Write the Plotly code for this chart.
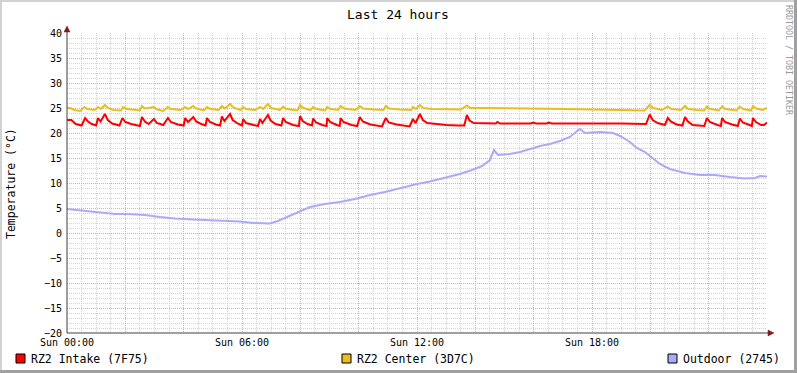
import plotly.graph_objects as go

# ---------------- data (hours since Sun 00:00, °C) ----------------
intake_t = [0.00, 0.15, 0.30, 0.50, 0.62, 0.72, 0.85, 1.00, 1.06, 1.15, 1.30, 1.40, 1.55, 1.80,
            1.90, 2.00, 2.20, 2.50, 2.57, 2.67, 2.80, 2.98, 3.08, 3.30, 3.46, 3.56, 3.80, 4.00,
            4.05, 4.15, 4.33, 4.43, 4.60, 4.75, 4.80, 4.90, 5.10, 5.25, 5.31, 5.40, 5.59, 5.68,
            5.85, 6.00, 6.04, 6.14, 6.40, 6.55, 6.62, 6.70, 6.89, 6.98, 7.15, 7.35, 7.41, 7.50,
            7.75, 7.95, 7.99, 8.08, 8.25, 8.40, 8.44, 8.54, 8.75, 8.90, 8.92, 9.02, 9.25, 9.35,
            9.38, 9.48, 9.75, 9.95, 10.04, 10.14, 10.40, 10.80, 10.93, 11.03, 11.30, 11.75,
            11.86, 11.95, 12.10, 12.20, 12.35, 12.60, 13.00, 13.40, 13.62, 13.71, 13.80, 13.95,
            14.50, 14.70, 14.76, 14.85, 15.90, 15.98, 16.08, 16.45, 16.52, 16.62, 19.00, 19.85,
            19.98, 20.08, 20.25, 20.50, 20.60, 20.70, 20.90, 21.10, 21.19, 21.29, 21.45, 21.85,
            21.94, 22.04, 22.30, 22.42, 22.46, 22.56, 22.80, 23.00, 23.07, 23.17, 23.40, 23.48,
            23.52, 23.62, 23.80, 23.90, 24.00]
intake_v = [22.6, 22.6, 21.8, 21.5, 23.0, 22.3, 21.8, 21.5, 23.0, 22.3, 23.8, 22.6, 21.9, 21.5,
            23.0, 22.2, 21.8, 21.4, 23.2, 22.3, 21.8, 22.8, 22.0, 21.6, 23.0, 22.2, 21.7, 21.5,
            23.0, 22.2, 23.2, 22.3, 21.8, 21.5, 23.0, 22.2, 21.7, 21.5, 23.3, 22.4, 23.8, 22.6,
            21.9, 21.5, 22.8, 22.0, 21.6, 21.4, 22.8, 22.0, 23.6, 22.5, 21.8, 21.5, 23.0, 22.2,
            21.6, 21.4, 23.4, 22.4, 21.8, 21.5, 22.9, 22.1, 21.6, 21.4, 23.0, 22.2, 21.6, 21.4,
            23.0, 22.2, 21.6, 21.4, 23.2, 22.3, 21.7, 21.3, 23.0, 22.1, 21.7, 21.3,
            22.8, 22.0, 23.8, 22.6, 22.0, 21.8, 21.6, 21.5, 21.5, 23.6, 22.5, 22.0,
            22.0, 21.9, 22.2, 21.9, 21.9, 22.1, 21.9, 21.9, 22.1, 21.9, 21.9, 21.8,
            23.7, 22.6, 22.0, 21.6, 23.0, 22.3, 21.7, 21.5, 23.2, 22.3, 21.6, 21.4,
            23.0, 22.2, 21.6, 21.4, 23.0, 22.2, 21.7, 21.4, 22.9, 22.1, 21.6, 21.4,
            23.0, 22.2, 21.6, 21.6, 22.1]

center_t = [0.00, 0.12, 0.25, 0.45, 0.60, 0.70, 0.95, 1.06, 1.16, 1.30, 1.40, 1.60, 1.85, 1.92,
            2.05, 2.30, 2.50, 2.57, 2.67, 2.98, 3.10, 3.30, 3.46, 3.56, 3.90, 4.05, 4.15, 4.33,
            4.43, 4.70, 4.80, 4.92, 5.20, 5.31, 5.42, 5.59, 5.70, 5.95, 6.04, 6.14, 6.45, 6.62,
            6.72, 6.89, 7.00, 7.30, 7.41, 7.52, 7.90, 7.99, 8.10, 8.35, 8.44, 8.55, 8.85, 8.92,
            9.03, 9.30, 9.38, 9.50, 9.90, 10.04, 10.15, 10.50, 10.85, 10.93, 11.05, 11.40, 11.80,
            11.86, 11.96, 12.10, 12.22, 12.50, 13.00, 13.50, 13.71, 13.82, 14.20, 15.00, 16.00,
            16.50, 17.00, 18.00, 19.00, 19.80, 19.98, 20.10, 20.40, 20.60, 20.72, 21.05, 21.19,
            21.30, 21.60, 21.85, 21.94, 22.05, 22.35, 22.46, 22.57, 22.95, 23.07, 23.18, 23.45,
            23.52, 23.63, 23.85, 24.00]
center_v = [25.0, 25.0, 24.6, 24.4, 25.2, 24.8, 24.6, 25.2, 24.8, 25.6, 25.0, 24.6, 24.5, 25.2,
            24.8, 24.6, 24.5, 25.4, 24.9, 25.2, 24.7, 24.4, 25.2, 24.8, 24.6, 25.2, 24.8, 25.4,
            24.9, 24.5, 25.2, 24.8, 24.6, 25.4, 24.9, 25.8, 25.1, 24.6, 25.2, 24.8, 24.6, 25.2,
            24.8, 25.8, 25.0, 24.6, 25.3, 24.8, 24.5, 25.6, 25.0, 24.6, 25.2, 24.8, 24.5, 25.2,
            24.8, 24.6, 25.4, 24.9, 24.6, 25.4, 24.9, 24.7, 24.6, 25.4, 24.9, 24.7, 24.6,
            25.2, 24.8, 25.6, 25.0, 24.8, 24.7, 24.7, 25.5, 25.0, 25.0, 24.9, 24.9,
            24.8, 24.8, 24.7, 24.6, 24.5, 25.6, 25.0, 24.6, 25.3, 24.8, 24.6, 25.4,
            24.8, 24.6, 24.5, 25.3, 24.8, 24.5, 25.3, 24.8, 24.5, 25.3, 24.8, 24.5,
            25.4, 24.9, 24.6, 25.0]

outdoor_t = [0.00, 0.45, 1.13, 1.65, 2.06, 2.67, 3.19, 3.70, 4.32, 4.90, 5.49, 5.93, 6.38, 6.96,
             7.23, 7.54, 7.99, 8.33, 8.84, 9.36, 9.87, 10.39, 10.90, 11.42, 12.00, 12.44, 12.96,
             13.47, 13.88, 14.23, 14.50, 14.64, 14.78, 15.19, 15.53, 15.87, 16.22, 16.56, 16.90,
             17.24, 17.45, 17.58, 17.76, 18.27, 18.72, 18.96, 19.30, 19.54, 19.82, 20.05, 20.33,
             20.67, 21.19, 21.70, 22.21, 22.73, 23.24, 23.59, 23.76, 24.00]
outdoor_v = [4.8, 4.5, 4.1, 3.8, 3.8, 3.6, 3.2, 2.9, 2.7, 2.6, 2.5, 2.3, 2.0, 1.9,
             2.4, 3.2, 4.3, 5.2, 5.8, 6.2, 6.8, 7.6, 8.2, 9.0, 9.8, 10.3, 11.0,
             11.8, 12.6, 13.4, 14.6, 16.6, 15.6, 15.8, 16.2, 16.8, 17.4, 17.8, 18.4,
             19.2, 20.2, 20.8, 20.0, 20.2, 20.0, 19.4, 18.2, 17.0, 16.2, 15.2, 13.8,
             12.8, 12.0, 11.6, 11.6, 11.2, 10.9, 11.0, 11.4, 11.3]

x_tick_vals = [0, 2, 4, 6, 8, 10, 12, 14, 16, 18, 20, 22]
x_tick_text = ["Sun 00:00", "", "", "Sun 06:00", "", "", "Sun 12:00", "", "", "Sun 18:00", "", ""]
y_tick_vals = [-20, -15, -10, -5, 0, 5, 10, 15, 20, 25, 30, 35, 40]

series_names = ["RZ2 Intake (7F75)", "RZ2 Center (3D7C)", "Outdoor (2745)"]
series_colors = ["#FF0000", "#EABE1E", "#AAAAF8"]

# ---------------- figure ----------------
W, H = 797, 373
L, R, T, B = 67, 30, 33, 40
PW, PH = W - L - R, H - T - B
FONT = "DejaVu Sans Mono"

def px(x):
    return (x - L) / PW

def py(y):
    return (H - B - y) / PH

fig = go.Figure()
for t, v, name, col in zip([intake_t, center_t, outdoor_t], [intake_v, center_v, outdoor_v],
                           series_names, series_colors):
    fig.add_trace(go.Scatter(x=t, y=v, mode="lines", name=name,
                             line=dict(color=col, width=2), hoverinfo="skip"))

major_grid = "#E6A8A8"
minor_grid = "#D4D4D4"
fig.update_layout(
    width=W, height=H,
    margin=dict(l=L, r=R, t=T, b=B),
    paper_bgcolor="white", plot_bgcolor="white",
    showlegend=False,
    font=dict(family=FONT, size=10, color="black"),
    xaxis=dict(range=[0, 24], tickvals=x_tick_vals, ticktext=x_tick_text,
               showgrid=True, gridcolor=major_grid, griddash="1px,1px", gridwidth=1,
               minor=dict(dtick=0.5, tick0=0, showgrid=True, gridcolor=minor_grid,
                          griddash="1px,1px", gridwidth=1),
               zeroline=False, showline=False, ticks="", ticklabelstandoff=2,
               tickfont=dict(family=FONT, size=10)),
    yaxis=dict(range=[-20, 40], tickvals=y_tick_vals,
               showgrid=True, gridcolor=major_grid, griddash="1px,1px", gridwidth=1,
               minor=dict(dtick=1, tick0=0, showgrid=True, gridcolor=minor_grid,
                          griddash="1px,1px", gridwidth=1),
               zeroline=False, showline=False, ticks="", ticklabelstandoff=4,
               tickfont=dict(family=FONT, size=10)),
)

shapes = []
axis_col = "#4A3C3C"
arrow_col = "#7A1E1E"
# axes lines
shapes.append(dict(type="line", xref="paper", yref="paper", x0=px(67), x1=px(770),
                   y0=py(333), y1=py(333), line=dict(color=axis_col, width=1)))
shapes.append(dict(type="line", xref="paper", yref="paper", x0=px(67), x1=px(67),
                   y0=py(333), y1=py(30), line=dict(color=axis_col, width=1)))
# arrows
shapes.append(dict(type="path", xref="paper", yref="paper",
                   path=f"M {px(64)},{py(32)} L {px(70)},{py(32)} L {px(67)},{py(26)} Z",
                   fillcolor=arrow_col, line=dict(color=arrow_col, width=0.5)))
shapes.append(dict(type="path", xref="paper", yref="paper",
                   path=f"M {px(768)},{py(330)} L {px(768)},{py(336)} L {px(774)},{py(333)} Z",
                   fillcolor=arrow_col, line=dict(color=arrow_col, width=0.5)))
# frame
shapes.append(dict(type="rect", xref="paper", yref="paper", x0=px(0), x1=px(W), y0=py(0), y1=py(2),
                   fillcolor="#D2D2D2", line=dict(width=0), layer="above"))
shapes.append(dict(type="rect", xref="paper", yref="paper", x0=px(0), x1=px(2), y0=py(0), y1=py(H),
                   fillcolor="#D2D2D2", line=dict(width=0), layer="above"))
shapes.append(dict(type="rect", xref="paper", yref="paper", x0=px(0), x1=px(W), y0=py(370), y1=py(H),
                   fillcolor="#A0A0A0", line=dict(width=0), layer="above"))
shapes.append(dict(type="rect", xref="paper", yref="paper", x0=px(794), x1=px(W), y0=py(0), y1=py(H),
                   fillcolor="#A0A0A0", line=dict(width=0), layer="above"))

annotations = []
# legend swatches and texts
legend_x = [16, 342, 668]
for x0, name, col in zip(legend_x, series_names, series_colors):
    shapes.append(dict(type="rect", xref="paper", yref="paper", x0=px(x0), x1=px(x0 + 9),
                       y0=py(354), y1=py(363), fillcolor=col, line=dict(color="black", width=1)))
    annotations.append(dict(x=px(x0 + 13), y=py(358.5), xref="paper", yref="paper",
                            text=name, showarrow=False, xanchor="left", yanchor="middle",
                            font=dict(family=FONT, size=11.5, color="black")))

annotations.append(dict(x=px(398), y=py(14), xref="paper", yref="paper", text="Last 24 hours",
                        showarrow=False, xanchor="center", yanchor="middle",
                        font=dict(family=FONT, size=13, color="black")))
annotations.append(dict(x=px(11), y=py(184), xref="paper", yref="paper", text="Temperature (°C)",
                        showarrow=False, xanchor="center", yanchor="middle", textangle=-90,
                        font=dict(family=FONT, size=11.5, color="black")))
annotations.append(dict(x=px(789), y=py(60), xref="paper", yref="paper",
                        text="RRDTOOL / TOBI OETIKER", showarrow=False,
                        xanchor="center", yanchor="middle", textangle=90,
                        font=dict(family=FONT, size=8.3, color="#9A9A9A")))

fig.update_layout(shapes=shapes, annotations=annotations)
fig.write_html("out.html", config={"displayModeBar": False, "staticPlot": True},
               post_script="document.body.style.margin='0';document.body.style.overflow='hidden';")
